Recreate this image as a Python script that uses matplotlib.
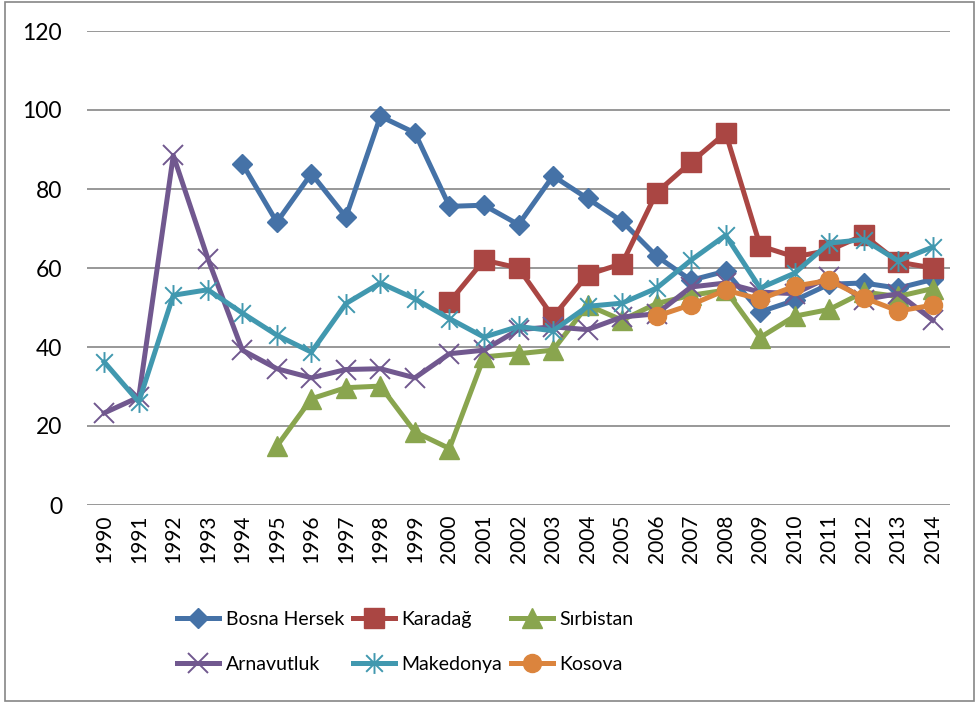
import numpy as np
import matplotlib
matplotlib.use("Agg")
import matplotlib.pyplot as plt
from matplotlib.path import Path
from matplotlib.patches import Rectangle

plt.rcParams["font.family"] = ["Lato", "DejaVu Sans"]

years = list(range(1990, 2015))

bosna_years = list(range(1994, 2015))
bosna = [86.4, 71.6, 83.9, 72.9, 98.4, 94.2, 75.6, 75.9, 71.0, 83.3, 77.6,
         71.8, 63.0, 56.9, 59.2, 48.9, 51.8, 55.9, 56.2, 54.9, 57.1]

karadag_years = list(range(2000, 2015))
karadag = [51.4, 62.0, 60.0, 47.6, 58.3, 61.1, 79.1, 86.8, 94.2, 65.6,
           62.8, 64.5, 68.3, 61.5, 60.0]

sirbistan_years = list(range(1995, 2015))
sirbistan = [14.9, 26.9, 29.7, 30.1, 18.5, 14.3, 37.5, 38.3, 39.2, 50.6,
             46.8, 51.0, 53.1, 54.4, 42.4, 47.8, 49.5, 53.9, 52.8, 54.8]

arnavutluk = [23.3, 27.3, 88.5, 62.4, 39.2, 34.5, 32.2, 34.3, 34.5, 32.2,
              38.3, 39.2, 44.4, 45.1, 44.4, 47.6, 48.4, 55.2, 56.2, 53.9,
              53.5, 57.7, 52.0, 53.5, 46.8]

makedonya = [36.2, 26.1, 53.1, 54.5, 48.6, 43.0, 38.7, 51.0, 56.2, 52.2,
             47.2, 42.5, 45.2, 44.1, 50.3, 51.1, 54.9, 62.0, 68.3, 54.9,
             58.7, 66.3, 67.2, 61.8, 65.3]

kosova_years = list(range(2006, 2015))
kosova = [47.8, 50.7, 54.4, 52.1, 55.4, 56.9, 52.5, 49.1, 50.6]

# excel style asterisk: vertical bar plus an x
star = Path([(0, -1), (0, 1), (-0.8, -0.8), (0.8, 0.8), (-0.8, 0.8), (0.8, -0.8)],
            [Path.MOVETO, Path.LINETO, Path.MOVETO, Path.LINETO, Path.MOVETO, Path.LINETO])

fig = plt.figure(figsize=(9.77, 7.02), dpi=100)
ax = fig.add_axes([87 / 977, 1 - 505 / 702, 863 / 977, 474 / 702])

lw = 3.6
h_bh, = ax.plot(bosna_years, bosna, color="#4572A7", lw=lw, marker="D", ms=10,
                label="Bosna Hersek")
h_ka, = ax.plot(karadag_years, karadag, color="#AA4643", lw=lw, marker="s", ms=14,
                label="Karadağ")
h_si, = ax.plot(sirbistan_years, sirbistan, color="#89A54E", lw=lw, marker="^", ms=14,
                label="Sırbistan")
h_ar, = ax.plot(years, arnavutluk, color="#71588F", lw=lw, marker="x", ms=14,
                mew=1.4, label="Arnavutluk")
h_ma, = ax.plot(years, makedonya, color="#4198AF", lw=lw, marker=star, ms=15,
                mew=1.4, mfc="none", label="Makedonya")
h_ko, = ax.plot(kosova_years, kosova, color="#DB843D", lw=lw, marker="o", ms=13,
                label="Kosova")

ax.set_xlim(1989.5, 2014.5)
ax.set_ylim(0, 120)
ax.set_yticks(range(0, 121, 20))
ax.set_xticks(years)
ax.set_xticklabels([str(y) for y in years], rotation=90, fontsize=15)
ax.tick_params(axis="y", length=0, pad=18, labelsize=16.5)
ax.tick_params(axis="x", length=0, pad=7)
ax.grid(axis="y", color="#868686", lw=1.2)
ax.set_axisbelow(True)
for s in ax.spines.values():
    s.set_visible(False)

handles = [h_bh, h_ar, h_ka, h_ma, h_si, h_ko]
fig.legend(handles, [h.get_label() for h in handles], ncol=3, frameon=False,
           loc="upper left", bbox_to_anchor=(177 / 977, 1 - 611 / 702),
           fontsize=14, handlelength=2.15, handletextpad=0.35,
           columnspacing=0.45, labelspacing=1.45, borderpad=0, borderaxespad=0)

fig.patches.append(Rectangle((5 / 977, 1 / 702), 969 / 977, 699 / 702,
                             transform=fig.transFigure, fill=False,
                             edgecolor="#868686", lw=1.2))

fig.savefig("out.png", dpi=100)
